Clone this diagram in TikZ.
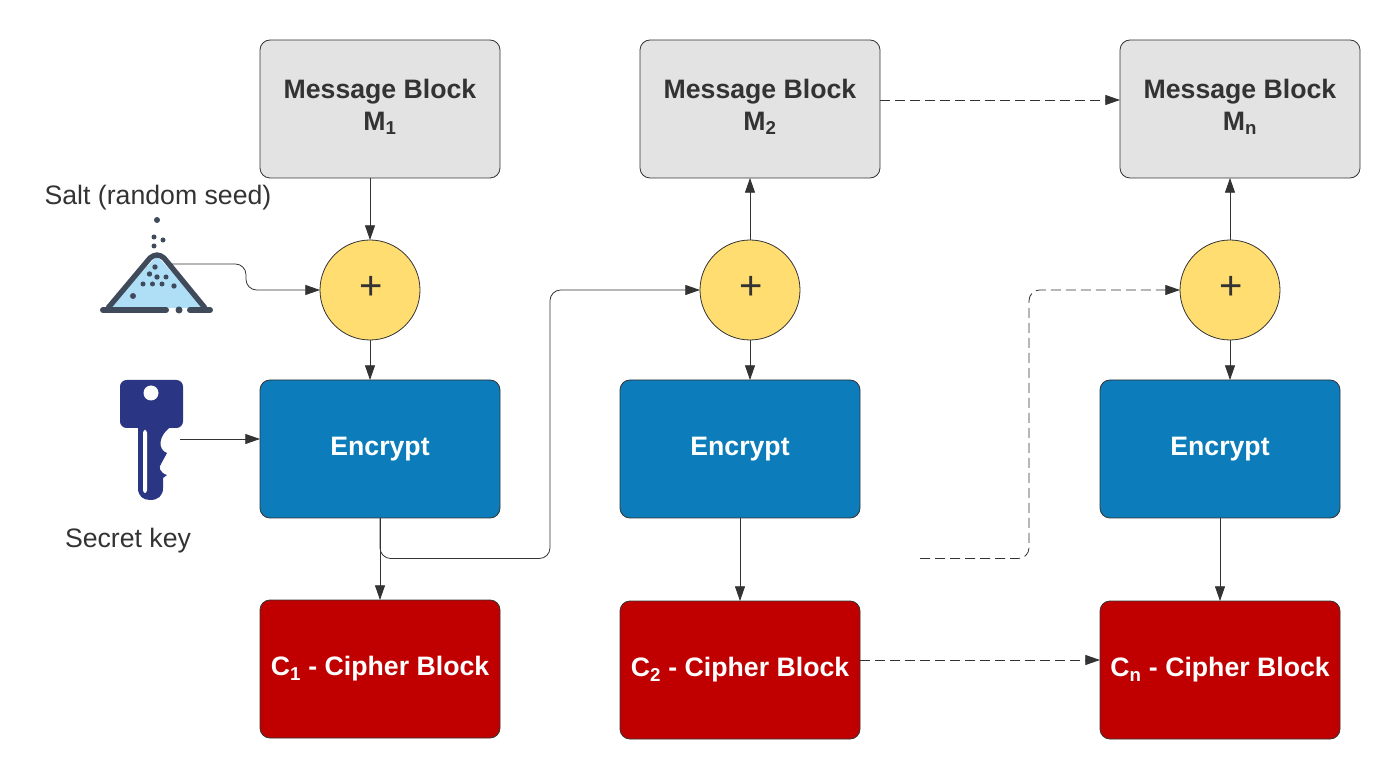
\documentclass[tikz,border=0pt]{standalone}
\usepackage{fontspec}
\setmainfont{Liberation Sans}
\usetikzlibrary{arrows.meta,positioning}
\definecolor{FlowInk}{HTML}{333333}
\definecolor{FlowGrey}{HTML}{E3E3E3}
\definecolor{FlowYellow}{HTML}{FFDD71}
\definecolor{FlowBlue}{HTML}{0C7CBA}
\definecolor{FlowRed}{HTML}{C00000}
\definecolor{SaltInk}{HTML}{3F4A5A}
\definecolor{SaltFill}{HTML}{AEDFF7}
\definecolor{KeyBlue}{HTML}{2A3583}
\newcommand{\msgtext}[1]{Message Block\\[-1pt]M\textsubscript{#1}\rule[-6pt]{0pt}{0pt}}
\tikzset{
  flow/block/.style={
    draw=FlowInk, line width=.6pt, rounded corners=7.5pt,
    minimum width=180pt, minimum height=103.5pt, inner sep=0pt, outer sep=0pt,
    font=\fontsize{20}{25}\selectfont\bfseries, align=center
  },
  flow/message/.style={flow/block, fill=FlowGrey, text=FlowInk},
  flow/encrypt/.style={flow/block, fill=FlowBlue, text=white},
  flow/cipher/.style={flow/block, fill=FlowRed, text=white},
  flow/xor/.style={
    circle, draw=FlowInk, line width=.6pt, fill=FlowYellow,
    minimum size=75pt, inner sep=0pt, outer sep=0pt
  },
  flow/plus/.style={font=\fontsize{30}{30}\selectfont, text=FlowInk, inner sep=0pt},
  flow/note/.style={font=\fontsize{20}{25}\selectfont, text=FlowInk, inner sep=0pt},
  flow/arrow/.style={
    -{Triangle[length=11pt,width=7.5pt]}, line width=.6pt, draw=FlowInk
  },
  flow/later/.style={flow/arrow, dash pattern=on 7.5pt off 3.75pt},
  flow/bent/.style={rounded corners=8pt}
}

\begin{document}
\begin{tikzpicture}[x=.75pt,y=-.75pt]
  \useasboundingbox (0,0) rectangle (1400,780);

  \node[flow/message] (msg1) at (380,109) {\msgtext{1}};
  \node[flow/message] (msg2) at (760,109) {\msgtext{2}};
  \node[flow/message] (msgn) at (1240,109) {\msgtext{n}};
  \node[flow/xor] (xor1) at (370,290) {};
  \node[flow/xor] (xor2) at (750,290) {};
  \node[flow/xor] (xorn) at (1230,290) {};
  \node[flow/plus] (plus1) at (371,288) {+};
  \node[flow/plus] (plus2) at (751,288) {+};
  \node[flow/plus] (plusn) at (1231,288) {+};
  \node[flow/encrypt] (enc1) at (380,449) {Encrypt};
  \node[flow/encrypt] (enc2) at (740,449) {Encrypt};
  \node[flow/encrypt] (encn) at (1220,449) {Encrypt};
  \node[flow/cipher] (ciph1) at (380,669) {C\textsubscript{1} - Cipher Block};
  \node[flow/cipher] (ciph2) at (740,670) {C\textsubscript{2} - Cipher Block};
  \node[flow/cipher] (ciphn) at (1220,670) {C\textsubscript{n} - Cipher Block};
  \node[flow/note] (saltlabel) at (158,198) {Salt (random seed)};
  \node[flow/note] (keylabel) at (128,541) {Secret key};

  \coordinate (saltout) at (172,264);
  \coordinate (keyout) at (180,439);
  \coordinate (laterout) at (920,558.5);

  % salt heap
  \fill[SaltFill] (108,308) -- (157,256) -- (205,308) -- cycle;
  \draw[SaltInk,line width=4pt,line join=round]
    (108,308) -- (150,258) .. controls (155,254) and (159,254) .. (164,258) -- (205,308);
  \draw[SaltInk,line width=4.5pt,line cap=round] (103,310) -- (166,310);
  \draw[SaltInk,line width=4.5pt,line cap=round] (190,310) -- (210,310);
  \fill[SaltInk] (179,310) circle (3.5);
  \foreach \x/\y/\r in {157/220/3,154/237/2.5,163/240/2.5,154/246/2.5,155/267/2.7,149.5/274/2.7,
      157/277/2.7,166/277/2.5,143/284/2.5,152.5/284/2.5,162/284/2.5,174/286/2.7,133/296/3}{
    \fill[SaltInk] (\x,\y) circle (\r);
  }

  % key
  \fill[KeyBlue,rounded corners=5pt] (120,380) rectangle (183,428);
  \fill[KeyBlue] (138,425) -- (138,488) .. controls (138,496) and (143,500) .. (150,500)
    .. controls (158,500) and (163,496) .. (163,488) -- (163,478) -- (167,475)
    .. controls (160,473) and (158,467) .. (161,464) -- (167,453)
    .. controls (158,450) and (157,436) .. (172,426) -- cycle;
  \fill[white] (151,393) circle (7.5);
  \fill[white,rounded corners=2pt] (143,430) rectangle (147,493);

  \draw[flow/arrow] (msg1.south -| xor1) -- (xor1.north);
  \draw[flow/arrow] (xor2.north) -- (xor2.north |- msg2.south);
  \draw[flow/arrow] (xorn.north) -- (xorn.north |- msgn.south);
  \draw[flow/arrow] (xor1.south) -- (xor1.south |- enc1.north);
  \draw[flow/arrow] (xor2.south) -- (xor2.south |- enc2.north);
  \draw[flow/arrow] (xorn.south) -- (xorn.south |- encn.north);
  \draw[flow/arrow] (enc1) -- (ciph1);
  \draw[flow/arrow] (enc2) -- (ciph2);
  \draw[flow/arrow] (encn) -- (ciphn);
  \draw[flow/arrow,flow/bent] (saltout) -| (246,290) -- (xor1.west);
  \draw[flow/arrow] (keyout) -- (keyout -| enc1.west);
  \draw[flow/arrow,flow/bent] (enc1.south) |- (550,558.5) -- (550,290) -- (xor2.west);
  \draw[flow/later,flow/bent] (laterout) -| (1029,290) -- (xorn.west);
  \draw[flow/later] (msg2.east |- 0,100) -- (msgn.west |- 0,100);
  \draw[flow/later] (ciph2.east |- 0,660) -- (ciphn.west |- 0,660);
\end{tikzpicture}
\end{document}
